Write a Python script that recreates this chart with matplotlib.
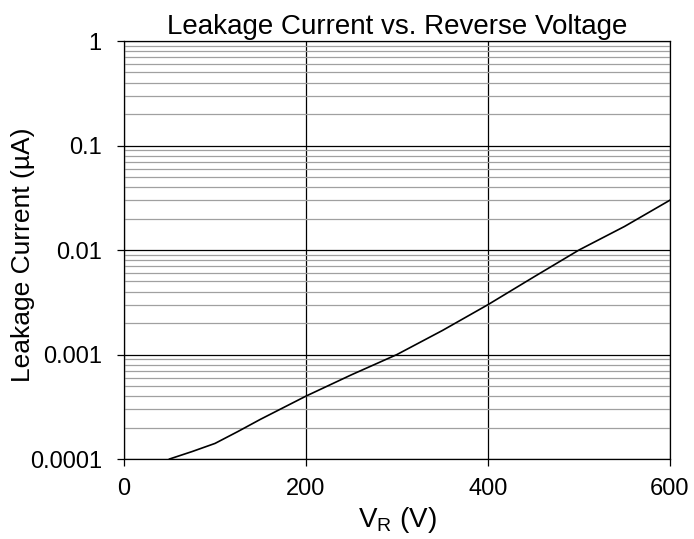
import numpy as np
import matplotlib.pyplot as plt
from matplotlib.ticker import LogLocator, NullFormatter

plt.rcParams['font.family'] = ['Liberation Sans', 'DejaVu Sans']
plt.rcParams['mathtext.fontset'] = 'custom'
plt.rcParams['mathtext.rm'] = 'Liberation Sans'

# reverse voltage (V) and leakage current (uA)
vr = [50, 75, 100, 125, 150, 200, 250, 300, 350, 400, 450, 500, 550, 600]
leak = [1.0e-4, 1.18e-4, 1.41e-4, 1.83e-4, 2.4e-4, 4.0e-4, 6.4e-4, 1.0e-3,
        1.7e-3, 3.0e-3, 5.5e-3, 1.0e-2, 1.68e-2, 3.0e-2]

y_ticks = [0.0001, 0.001, 0.01, 0.1, 1]
y_labels = ['0.0001', '0.001', '0.01', '0.1', '1']
x_ticks = [0, 200, 400, 600]

fig = plt.figure(figsize=(6.94, 5.39), dpi=100)
ax = fig.add_axes([0.1787, 0.1484, 0.7867, 0.7755])

ax.plot(vr, leak, color='black', lw=1.2, zorder=3)

ax.set_yscale('log')
ax.set_xlim(0, 600)
ax.set_ylim(1e-4, 1)
ax.set_xticks(x_ticks)
ax.set_yticks(y_ticks)
ax.set_yticklabels(y_labels)
ax.yaxis.set_minor_locator(LogLocator(base=10, subs=np.arange(2, 10)))
ax.yaxis.set_minor_formatter(NullFormatter())

ax.grid(True, which='major', color='black', lw=0.9)
ax.grid(True, which='minor', axis='y', color='#a0a0a0', lw=0.9)
ax.tick_params(which='major', direction='out', length=5, width=0.9, labelsize=17)
ax.tick_params(axis='x', pad=9)
ax.tick_params(axis='y', pad=11)
ax.tick_params(which='minor', length=0)
for s in ax.spines.values():
    s.set_linewidth(0.9)

ax.set_title('Leakage Current vs. Reverse Voltage', fontsize=20, pad=5)
ax.set_xlabel('V$_\\mathregular{R}$ (V)', fontsize=20, labelpad=3)
fig.text(23 / 694, 0.527, 'Leakage Current (µA)', rotation=90, fontsize=19,
         ha='center', va='center')

fig.savefig('out.png', dpi=100)
